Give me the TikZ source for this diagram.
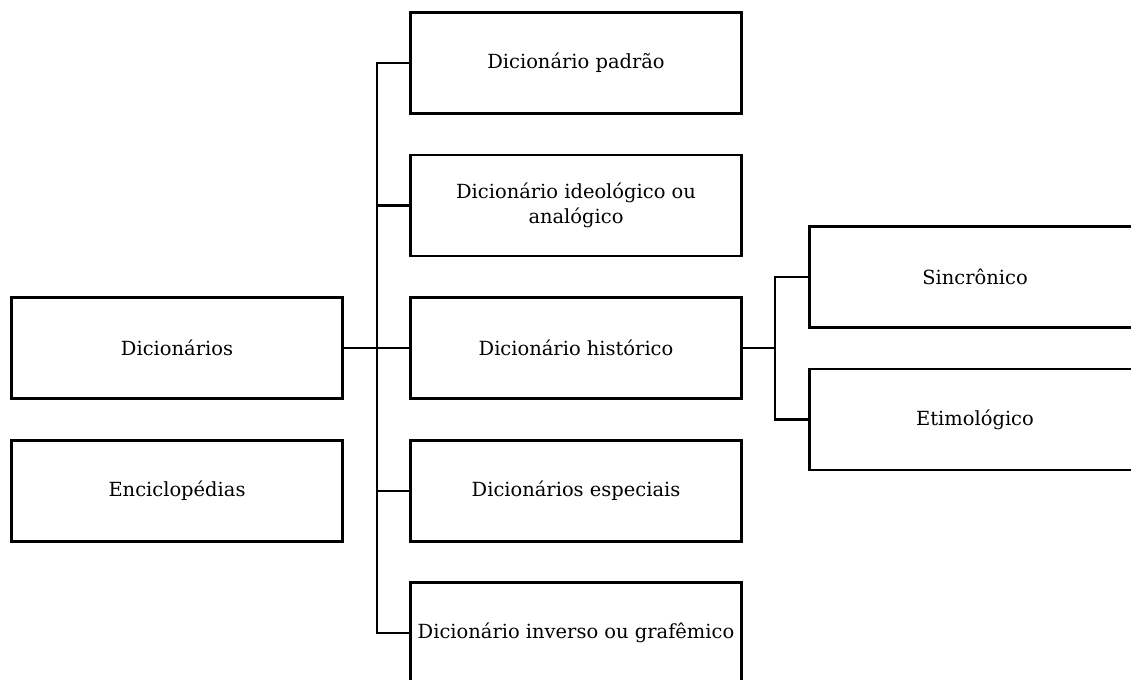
\documentclass[tikz,border=0pt]{standalone}
\usepackage{fontspec}
\setmainfont{DejaVu Serif}
\begin{document}
\begin{tikzpicture}[x=0.75pt,y=-0.75pt,
  box/.style={draw=black,line width=1.9pt,minimum width=248pt,minimum height=75.5pt,inner sep=0pt,align=center,
    font=\fontsize{14.6}{18.75}\selectfont},
  conn/.style={draw=black,line width=1.9pt}]
\useasboundingbox (0,0) rectangle (1131,679);
\node[box] (dic) at (177,348) {Dicionários};
\node[box] (enc) at (177,491) {Enciclopédias};
\node[box] (pad) at (576,63) {Dicionário padrão};
\node[box] (ide) at (576,205.5) {Dicionário ideológico ou\\analógico};
\node[box] (his) at (576,348) {Dicionário histórico};
\node[box] (esp) at (576,491) {Dicionários especiais};
\node[box] (inv) at (576,633) {Dicionário inverso ou grafêmico};
\node[box] (sin) at (975,277) {Sincrônico};
\node[box] (eti) at (975,419.5) {Etimológico};
\coordinate (spine) at (377,348);
\coordinate (hj) at (775,348);
\draw[conn] (dic.east) -- (spine);
\draw[conn] (pad.west) -| (spine) |- (inv.west);
\draw[conn] (ide.west) -- (spine |- ide.west);
\draw[conn] (his.west) -- (spine);
\draw[conn] (esp.west) -- (spine |- esp.west);
\draw[conn] (his.east) -- (hj);
\draw[conn] (sin.west) -| (hj) |- (eti.west);
\end{tikzpicture}
\end{document}
